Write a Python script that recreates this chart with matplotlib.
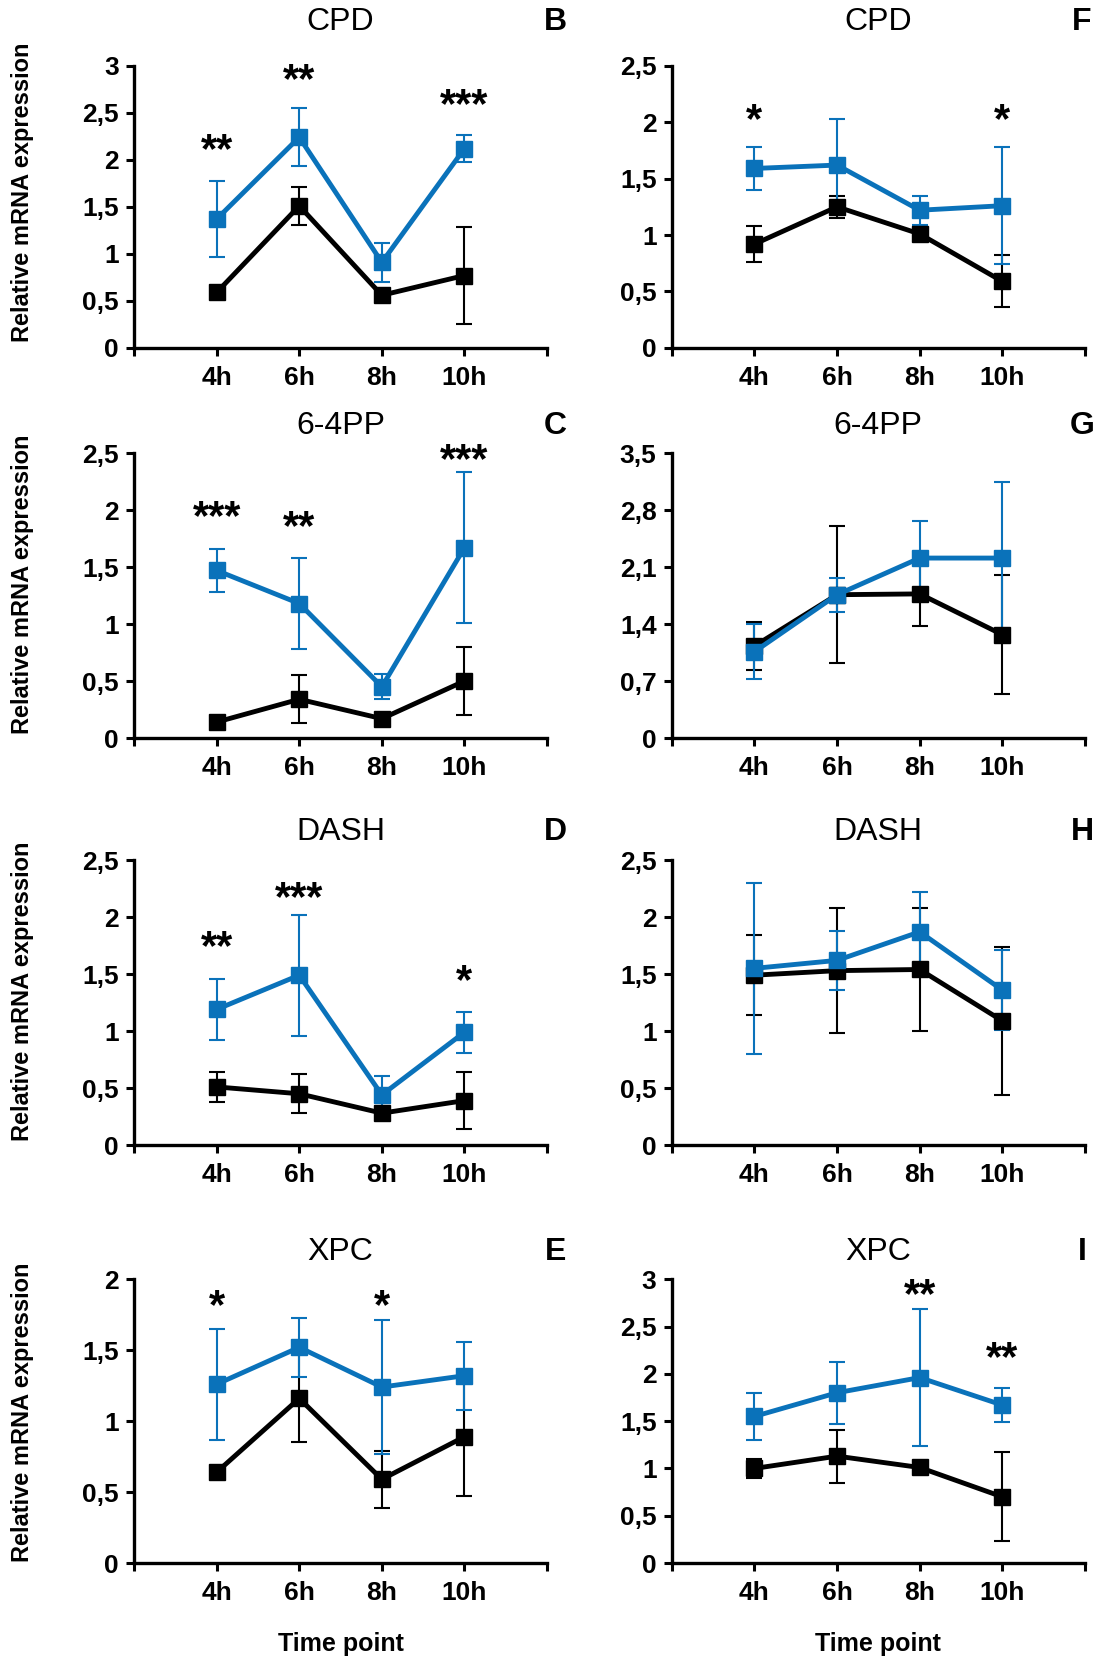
import matplotlib
matplotlib.use("Agg")
import matplotlib.pyplot as plt
import numpy as np

plt.rcParams['font.family'] = ['Liberation Sans', 'DejaVu Sans']

BLUE = '#0a72ba'
times = ['4h', '6h', '8h', '10h']

# CPD (B, F)
b_black = [0.59, 1.51, 0.56, 0.77]
b_black_err = [0.03, 0.20, 0.03, 0.52]
b_blue = [1.37, 2.24, 0.91, 2.12]
b_blue_err = [0.40, 0.31, 0.21, 0.14]
b_stars = {0: '**', 1: '**', 3: '***'}
b_star_y = {0: 2.17, 1: 2.92, 3: 2.65}

f_black = [0.92, 1.25, 1.01, 0.59]
f_black_err = [0.16, 0.10, 0.06, 0.23]
f_blue = [1.59, 1.62, 1.22, 1.26]
f_blue_err = [0.19, 0.41, 0.13, 0.52]
f_stars = {0: '*', 3: '*'}
f_star_y = {0: 2.08, 3: 2.08}

# 6-4PP (C, G)
c_black = [0.14, 0.34, 0.17, 0.50]
c_black_err = [0.02, 0.21, 0.03, 0.30]
c_blue = [1.47, 1.18, 0.45, 1.67]
c_blue_err = [0.19, 0.40, 0.11, 0.66]
c_stars = {0: '***', 1: '**', 3: '***'}
c_star_y = {0: 2.0, 1: 1.91, 3: 2.5}

g_black = [1.13, 1.76, 1.77, 1.27]
g_black_err = [0.29, 0.84, 0.40, 0.73]
g_blue = [1.06, 1.76, 2.21, 2.21]
g_blue_err = [0.34, 0.21, 0.46, 0.93]

# DASH (D, H)
d_black = [0.51, 0.45, 0.28, 0.39]
d_black_err = [0.13, 0.17, 0.03, 0.25]
d_blue = [1.19, 1.49, 0.44, 0.99]
d_blue_err = [0.27, 0.53, 0.17, 0.18]
d_stars = {0: '**', 1: '***', 3: '*'}
d_star_y = {0: 1.80, 1: 2.23, 3: 1.50}

h_black = [1.49, 1.53, 1.54, 1.09]
h_black_err = [0.35, 0.55, 0.54, 0.65]
h_blue = [1.55, 1.62, 1.87, 1.36]
h_blue_err = [0.75, 0.26, 0.35, 0.35]

# XPC (E, I)
e_black = [0.64, 1.16, 0.59, 0.89]
e_black_err = [0.02, 0.31, 0.20, 0.42]
e_blue = [1.26, 1.52, 1.24, 1.32]
e_blue_err = [0.39, 0.21, 0.47, 0.24]
e_stars = {0: '*', 2: '*'}
e_star_y = {0: 1.86, 2: 1.86}

i_black = [1.00, 1.13, 1.01, 0.70]
i_black_err = [0.10, 0.28, 0.03, 0.47]
i_blue = [1.55, 1.80, 1.96, 1.67]
i_blue_err = [0.25, 0.33, 0.72, 0.18]
i_stars = {2: '**', 3: '**'}
i_star_y = {2: 2.90, 3: 2.24}

# (title, letter, black, black_err, blue, blue_err, yticks, stars, star_y, col, row)
panels = [
    ('CPD', 'B', b_black, b_black_err, b_blue, b_blue_err, np.arange(0, 3.01, 0.5), b_stars, b_star_y, 0, 0),
    ('6-4PP', 'C', c_black, c_black_err, c_blue, c_blue_err, np.arange(0, 2.51, 0.5), c_stars, c_star_y, 0, 1),
    ('DASH', 'D', d_black, d_black_err, d_blue, d_blue_err, np.arange(0, 2.51, 0.5), d_stars, d_star_y, 0, 2),
    ('XPC', 'E', e_black, e_black_err, e_blue, e_blue_err, np.arange(0, 2.01, 0.5), e_stars, e_star_y, 0, 3),
    ('CPD', 'F', f_black, f_black_err, f_blue, f_blue_err, np.arange(0, 2.51, 0.5), f_stars, f_star_y, 1, 0),
    ('6-4PP', 'G', g_black, g_black_err, g_blue, g_blue_err, np.arange(0, 3.51, 0.7), {}, {}, 1, 1),
    ('DASH', 'H', h_black, h_black_err, h_blue, h_blue_err, np.arange(0, 2.51, 0.5), {}, {}, 1, 2),
    ('XPC', 'I', i_black, i_black_err, i_blue, i_blue_err, np.arange(0, 3.01, 0.5), i_stars, i_star_y, 1, 3),
]

lefts = [0.1213, 0.608]
rows = [(0.7904, 0.170), (0.5554, 0.1717), (0.3102, 0.1717), (0.0584, 0.171)]
title_y = [1.155, 1.095, 1.097, 1.097]
ylab_y = [0.55, 0.54, 0.54, 0.53]


def fmt(v):
    s = ('%.1f' % v).rstrip('0').rstrip('.')
    return s.replace('.', ',')


fig = plt.figure(figsize=(11.05, 16.6), dpi=100)

for (title, letter, blk, blk_e, blu, blu_e, yt, stars, star_y, col, row) in panels:
    bottom, h = rows[row]
    ax = fig.add_axes([lefts[col], bottom, 0.3738, h])
    x = np.arange(1, 5)

    # draw lines
    ax.errorbar(x, blk, yerr=blk_e, fmt='-s', color='black', lw=3.5, ms=12,
                ecolor='black', elinewidth=1.5, capsize=6, capthick=1.5)
    ax.errorbar(x, blu, yerr=blu_e, fmt='-s', color=BLUE, lw=3.5, ms=12,
                ecolor=BLUE, elinewidth=1.5, capsize=6, capthick=1.5)

    # significance stars
    fs = 30
    for k, s in stars.items():
        ax.annotate(s, (x[k], star_y[k]), xytext=(0, -0.45 * fs),
                    textcoords='offset points', ha='center', va='baseline',
                    fontsize=fs, fontweight='bold')

    ax.set_xlim(0, 5)
    ax.set_ylim(0, yt[-1])
    ax.set_xticks(np.arange(0, 6))
    ax.set_xticklabels([''] + times + [''])
    ax.set_yticks(yt)
    ax.set_yticklabels([fmt(v) for v in yt])
    for sp in ['top', 'right']:
        ax.spines[sp].set_visible(False)
    for sp in ['left', 'bottom']:
        ax.spines[sp].set_linewidth(2.4)
    ax.tick_params(direction='out', length=6, width=2.2, labelsize=19)
    ax.tick_params(axis='x', pad=7)
    ax.tick_params(axis='y', pad=5)
    for lab in ax.get_xticklabels() + ax.get_yticklabels():
        lab.set_fontweight('bold')

    # make labels
    ax.text(0.5, title_y[row], title, transform=ax.transAxes, ha='center',
            va='center', fontsize=23)
    lx = 1.02 if col == 0 else 0.993
    ax.text(lx, title_y[row], letter, transform=ax.transAxes, ha='center',
            va='center', fontsize=23, fontweight='bold')
    if col == 0:
        ax.set_ylabel('Relative mRNA expression', fontsize=17, fontweight='bold')
        ax.yaxis.set_label_coords(-0.242, ylab_y[row])
    if row == 3:
        ax.text(0.5, -0.285, 'Time point', transform=ax.transAxes, ha='center',
                va='center', fontsize=18, fontweight='bold')

fig.savefig('out.png', dpi=100)
